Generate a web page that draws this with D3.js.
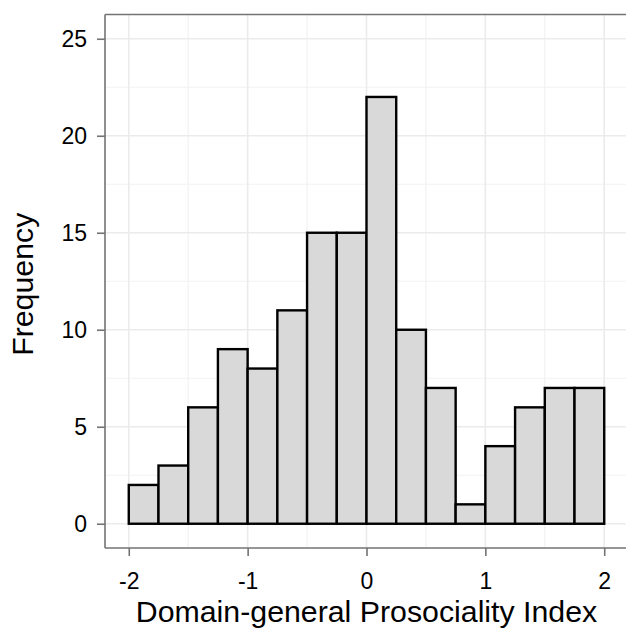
<!DOCTYPE html>
<html>
<head>
<meta charset="utf-8">
<script src="https://d3js.org/d3.v7.min.js"></script>
<style>
body { margin: 0; background: #fff; }
svg text { font-family: "Liberation Sans", Arial, sans-serif; }
</style>
</head>
<body>
<div id="chart"></div>
<script>
// histogram bins (width 0.25) from -2 to 2
var binStarts = [-2, -1.75, -1.5, -1.25, -1, -0.75, -0.5, -0.25, 0, 0.25, 0.5, 0.75, 1, 1.25, 1.5, 1.75]
var counts = [2, 3, 6, 9, 8, 11, 15, 15, 22, 10, 7, 1, 4, 6, 7, 7]
var binWidth = 0.25
var xTicks = [-2, -1, 0, 1, 2]
var xMinor = [-1.5, -0.5, 0.5, 1.5]
var yTicks = [0, 5, 10, 15, 20, 25]
var yMinor = [2.5, 7.5, 12.5, 17.5, 22.5]

var width = 626, height = 628
var panelLeft = 105, panelTop = 14.5, panelRight = 628, panelBottom = 548

var svg = d3.select("#chart").append("svg").attr("width", width).attr("height", height)

var x = d3.scaleLinear().domain([-2.2, 2.2]).range([panelLeft, panelRight])
var y = d3.scaleLinear().domain([-1.25, 26.25]).range([panelBottom, panelTop])

var grid = svg.append("g")
grid.selectAll(".vminor").data(xMinor).enter().append("line")
    .attr("x1", function(d){return x(d)}).attr("x2", function(d){return x(d)})
    .attr("y1", panelTop).attr("y2", panelBottom)
    .attr("stroke", "#f2f2f2").attr("stroke-width", 1.2)
grid.selectAll(".hminor").data(yMinor).enter().append("line")
    .attr("y1", function(d){return y(d)}).attr("y2", function(d){return y(d)})
    .attr("x1", panelLeft).attr("x2", panelRight)
    .attr("stroke", "#f2f2f2").attr("stroke-width", 1.2)
grid.selectAll(".vmajor").data(xTicks).enter().append("line")
    .attr("x1", function(d){return x(d)}).attr("x2", function(d){return x(d)})
    .attr("y1", panelTop).attr("y2", panelBottom)
    .attr("stroke", "#ebebeb").attr("stroke-width", 1.6)
grid.selectAll(".hmajor").data(yTicks).enter().append("line")
    .attr("y1", function(d){return y(d)}).attr("y2", function(d){return y(d)})
    .attr("x1", panelLeft).attr("x2", panelRight)
    .attr("stroke", "#ebebeb").attr("stroke-width", 1.6)

// bars
svg.append("g").selectAll("rect")
    .data(binStarts)
    .enter()
    .append("rect")
    .attr("x", function(d){return x(d)})
    .attr("width", function(d){return x(d + binWidth) - x(d)})
    .attr("y", function(d,i){return y(counts[i])})
    .attr("height", function(d,i){return y(0) - y(counts[i])})
    .attr("fill", "#d9d9d9")
    .attr("stroke", "#000")
    .attr("stroke-width", 2.4)

// panel lines (top, left, bottom)
var axisColor = "#737373"
svg.append("line").attr("x1", panelLeft).attr("x2", panelRight).attr("y1", panelTop).attr("y2", panelTop)
    .attr("stroke", axisColor).attr("stroke-width", 1.6)
svg.append("line").attr("x1", panelLeft).attr("x2", panelLeft).attr("y1", panelTop).attr("y2", panelBottom)
    .attr("stroke", axisColor).attr("stroke-width", 1.6)
svg.append("line").attr("x1", panelLeft).attr("x2", panelRight).attr("y1", panelBottom).attr("y2", panelBottom)
    .attr("stroke", axisColor).attr("stroke-width", 1.6)

var xAxis = d3.axisBottom(x).tickValues(xTicks).tickSize(8).tickSizeOuter(0)
var gx = svg.append("g").attr("transform", "translate(0," + panelBottom + ")").call(xAxis)
gx.select(".domain").remove()
gx.selectAll("line").attr("stroke", axisColor).attr("stroke-width", 1.6)
gx.selectAll("text").attr("fill", "#000").attr("font-size", 23)
    .attr("y", 41).attr("dy", 0)
    .text(function(d){return d < 0 ? "-" + Math.abs(d) : d})

var yAxis = d3.axisLeft(y).tickValues(yTicks).tickSize(8).tickSizeOuter(0).tickPadding(10)
var gy = svg.append("g").attr("transform", "translate(" + panelLeft + ",0)").call(yAxis)
gy.select(".domain").remove()
gy.selectAll("line").attr("stroke", axisColor).attr("stroke-width", 1.6)
gy.selectAll("text").attr("fill", "#000").attr("font-size", 23)

svg.append("text")
    .attr("x", (panelLeft + panelRight) / 2).attr("y", 622)
    .attr("text-anchor", "middle").attr("font-size", 30.3)
    .text("Domain-general Prosociality Index")

svg.append("text")
    .attr("transform", "translate(33," + ((panelTop + panelBottom) / 2 + 3) + ") rotate(-90)")
    .attr("text-anchor", "middle").attr("font-size", 30.3)
    .text("Frequency")
</script>
</body>
</html>
